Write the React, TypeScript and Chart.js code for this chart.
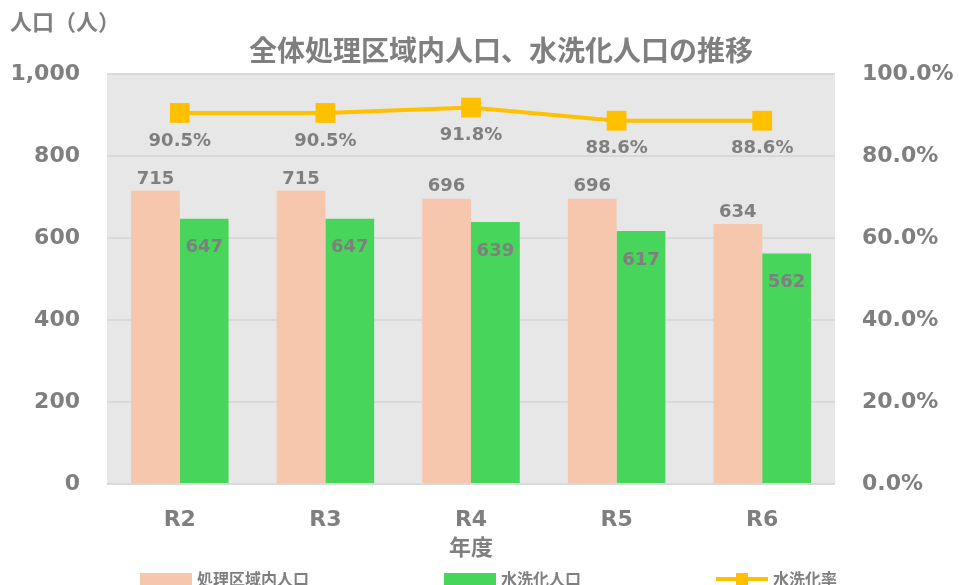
import React, { useEffect, useRef } from "react";
import { Chart, registerables } from "chart.js";

Chart.register(...registerables);

const categories = ["R2", "R3", "R4", "R5", "R6"];
const serviceAreaPop = [715, 715, 696, 696, 634];
const flushPop = [647, 647, 639, 617, 562];
const flushRate = [90.5, 90.5, 91.8, 88.6, 88.6];

const seriesNames = ["処理区域内人口", "水洗化人口", "水洗化率"];
const chartTitle = "全体処理区域内人口、水洗化人口の推移";
const yTitle = "人口（人）";
const xTitle = "年度";

const PINK = "#f6c7ad";
const GREEN = "#47d55b";
const YELLOW = "#ffc000";
const GRAY = "#7f7f7f";
const BG = "#e7e7e7";
const GRID = "#d9d9d9";
const NUM_FONT = "'DejaVu Sans', Verdana, sans-serif";
const JP_FONT = "'Noto Sans CJK JP', 'Noto Sans', sans-serif";

export default function App() {
  const ref = useRef<HTMLCanvasElement | null>(null);

  useEffect(() => {
    const canvas = ref.current;
    if (!canvas) return;

    const bgPlugin = {
      id: "bgPlugin",
      beforeDraw(chart: any) {
        const { ctx, chartArea } = chart;
        ctx.save();
        ctx.fillStyle = BG;
        ctx.fillRect(chartArea.left, chartArea.top, chartArea.right - chartArea.left, chartArea.bottom - chartArea.top);
        ctx.restore();
      },
    };

    const labelsPlugin = {
      id: "labelsPlugin",
      afterDatasetsDraw(chart: any) {
        const { ctx } = chart;
        ctx.save();
        ctx.fillStyle = GRAY;
        ctx.font = `bold 18px ${NUM_FONT}`;
        ctx.textAlign = "center";
        ctx.textBaseline = "middle";
        const m0 = chart.getDatasetMeta(0);
        m0.data.forEach((el: any, i: number) => {
          ctx.fillText(String(serviceAreaPop[i]), el.x, el.y - 12);
        });
        const m1 = chart.getDatasetMeta(1);
        m1.data.forEach((el: any, i: number) => {
          ctx.fillText(String(flushPop[i]), el.x, el.y + 29);
        });
        const m2 = chart.getDatasetMeta(2);
        m2.data.forEach((el: any, i: number) => {
          ctx.fillText(flushRate[i].toFixed(1) + "%", el.x, el.y + 28);
        });
        ctx.restore();
      },
      afterDraw(chart: any) {
        const { ctx } = chart;
        ctx.save();
        ctx.fillStyle = GRAY;
        ctx.textBaseline = "middle";
        // title
        ctx.font = `bold 28px ${JP_FONT}`;
        ctx.textAlign = "center";
        ctx.fillText(chartTitle, 493, 42);
        // y title
        ctx.font = `bold 22px ${JP_FONT}`;
        ctx.textAlign = "left";
        ctx.fillText(yTitle, 2, 14);
        // legend
        ctx.font = `bold 16px ${JP_FONT}`;
        const legendY = 571;
        const boxW = 52;
        const gap = 135;
        let x = 132;
        seriesNames.forEach((name, i) => {
          if (i === 0 || i === 1) {
            ctx.fillStyle = i === 0 ? PINK : GREEN;
            ctx.fillRect(x, legendY - 6, boxW, 12);
          } else {
            ctx.strokeStyle = YELLOW;
            ctx.lineWidth = 4;
            ctx.beginPath();
            ctx.moveTo(x, legendY);
            ctx.lineTo(x + boxW, legendY);
            ctx.stroke();
            ctx.fillStyle = YELLOW;
            ctx.fillRect(x + boxW / 2 - 6, legendY - 6, 12, 12);
          }
          ctx.fillStyle = GRAY;
          ctx.fillText(name, x + boxW + 5, legendY);
          x += boxW + 5 + ctx.measureText(name).width + gap;
        });
        ctx.restore();
      },
    };

    const chart = new Chart(canvas, {
      type: "bar",
      data: {
        labels: categories,
        datasets: [
          {
            type: "bar",
            label: seriesNames[0],
            data: serviceAreaPop,
            backgroundColor: PINK,
            yAxisID: "y",
            categoryPercentage: 0.67,
            barPercentage: 1,
            order: 2,
          },
          {
            type: "bar",
            label: seriesNames[1],
            data: flushPop,
            backgroundColor: GREEN,
            yAxisID: "y",
            categoryPercentage: 0.67,
            barPercentage: 1,
            order: 2,
          },
          {
            type: "line",
            label: seriesNames[2],
            data: flushRate,
            borderColor: YELLOW,
            backgroundColor: YELLOW,
            borderWidth: 4,
            pointStyle: "rect",
            pointRadius: 14,
            pointBorderWidth: 0,
            pointBackgroundColor: YELLOW,
            yAxisID: "y1",
            order: 1,
          } as any,
        ],
      },
      options: {
        animation: false,
        responsive: false,
        maintainAspectRatio: false,
        layout: { padding: { top: 66, bottom: 27, left: 0, right: 0 } },
        plugins: {
          legend: { display: false },
          title: { display: false },
          tooltip: { enabled: false },
        },
        scales: {
          x: {
            grid: { display: false, drawTicks: false },
            border: { display: false },
            ticks: {
              color: GRAY,
              font: { family: NUM_FONT, size: 22, weight: "bold" },
              padding: 23,
            },
            title: {
              display: true,
              text: xTitle,
              color: GRAY,
              font: { family: JP_FONT, size: 22, weight: "bold" },
              padding: { top: 0, bottom: 6 },
            },
            afterFit(scale: any) {
              scale.height = 82;
            },
          },
          y: {
            position: "left",
            min: 0,
            max: 1000,
            grid: { color: GRID, lineWidth: 2, drawTicks: false },
            border: { display: false },
            ticks: {
              stepSize: 200,
              color: GRAY,
              padding: 27,
              font: { family: NUM_FONT, size: 22, weight: "bold" },
              callback: (v: any) => Number(v).toLocaleString("en-US"),
            },
            afterFit(scale: any) {
              scale.width = 99;
            },
          },
          y1: {
            position: "right",
            min: 0,
            max: 100,
            grid: { display: false, drawTicks: false },
            border: { display: false },
            ticks: {
              stepSize: 20,
              color: GRAY,
              padding: 27,
              font: { family: NUM_FONT, size: 22, weight: "bold" },
              callback: (v: any) => Number(v).toFixed(1) + "%",
            },
            afterFit(scale: any) {
              scale.width = 118;
            },
          },
        },
      } as any,
      plugins: [bgPlugin, labelsPlugin],
    });

    return () => chart.destroy();
  }, []);

  return (
    <div style={{ width: 945, height: 585 }}>
      <canvas ref={ref} width={945} height={585} style={{ display: "block", width: 945, height: 585 }} />
    </div>
  );
}
